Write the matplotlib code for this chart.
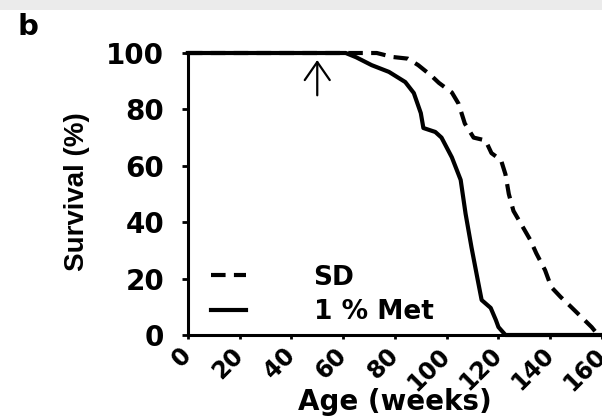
import matplotlib
matplotlib.use('Agg')
import matplotlib.pyplot as plt
from matplotlib.patches import Rectangle

# survival data
age_sd = [0, 73, 79, 85, 89, 94, 97, 102, 104.6, 107, 110.4, 115, 117.3, 121, 122.7, 124,
          125.8, 129.6, 132.3, 134.6, 138, 140.4, 144, 148, 152, 156, 158.5]
surv_sd = [100, 100, 98.6, 98, 95.7, 92, 89.4, 86, 82, 75, 70, 69, 64.5, 62, 57, 50,
           44, 38, 33.7, 29, 23, 17, 13.5, 10, 6.4, 2.8, 0]

age_met = [0, 61, 65, 71, 77.7, 84, 87.3, 90, 91, 95.6, 98, 102, 105.4, 107.3, 109.6,
           112, 113.5, 117, 119, 120, 122.7, 160]
surv_met = [100, 100, 98.5, 95.7, 93.3, 89.7, 85.8, 78.7, 73.4, 72, 70, 63, 55, 43, 31,
            19.5, 12.4, 9.6, 5.3, 2.8, 0, 0]

x_ticks = [0, 20, 40, 60, 80, 100, 120, 140, 160]
y_ticks = [0, 20, 40, 60, 80, 100]
arrow_age = 50

plt.rcParams['font.family'] = ['DejaVu Sans']
plt.rcParams['font.weight'] = 'bold'

fig = plt.figure(figsize=(6.02, 4.19), dpi=100)
ax = fig.add_axes([0.312, 0.2005, 0.688, 0.673])

# grey strip at top of the scan
fig.patches.append(Rectangle((0, 1 - 10 / 419), 1, 10 / 419, transform=fig.transFigure,
                             facecolor='#ebebeb', edgecolor='none'))

ax.plot(age_sd, surv_sd, color='black', lw=3, linestyle=(0, (3.5, 2)), clip_on=False, label='SD')
ax.plot(age_met, surv_met, color='black', lw=3, clip_on=False, label='1 % Met')

ax.annotate('', xy=(arrow_age, 97.5), xytext=(arrow_age, 85),
            arrowprops=dict(arrowstyle='->,head_width=0.45,head_length=0.65',
                            lw=1.6, color='black', mutation_scale=20, shrinkA=0, shrinkB=0))

ax.set_xlim(0, 160)
ax.set_ylim(0, 100)
ax.spines['top'].set_visible(False)
ax.spines['right'].set_visible(False)
for s in ['left', 'bottom']:
    ax.spines[s].set_linewidth(2.2)

ax.set_yticks(y_ticks)
ax.set_yticklabels([str(v) for v in y_ticks], fontsize=20, fontweight='bold')
ax.tick_params(axis='y', direction='out', length=4, width=2, pad=13)

ax.set_xticks(x_ticks)
ax.set_xticklabels([str(v) for v in x_ticks], fontsize=17, fontweight='bold',
                   rotation=45, ha='right', va='center', rotation_mode='anchor')
ax.tick_params(axis='x', direction='out', length=3, width=2, pad=9)

ax.set_ylabel('Survival (%)', fontsize=20, fontweight='bold', family='Liberation Sans')
ax.yaxis.set_label_coords(-0.236, 0.507)
ax.set_xlabel('Age (weeks)', fontsize=20, fontweight='bold', va='top')
ax.xaxis.set_label_coords(0.5, -0.188)

ax.legend(loc='lower left', bbox_to_anchor=(0.055, 0.035), frameon=False, fontsize=19,
          handlelength=1.35, handletextpad=2.55, labelspacing=0.32, borderpad=0,
          borderaxespad=0)

fig.text(17 / 602, 1 - 35 / 419, 'b', fontsize=21, fontweight='bold', ha='left', va='baseline')

fig.savefig('out.png', dpi=100)
